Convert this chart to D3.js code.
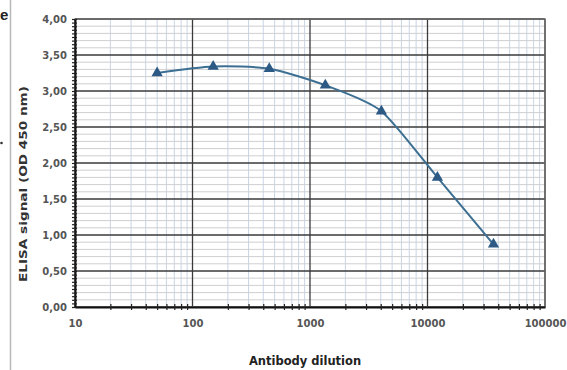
<!DOCTYPE html>
<html>
<head>
<meta charset="utf-8">
<script src="https://cdn.jsdelivr.net/npm/d3@7"></script>
<style>
    body { margin: 0; background: #fff; }
    text { font-family: "DejaVu Sans", "Liberation Sans", Arial, sans-serif; }
</style>
</head>
<body>
<div id="chart"></div>
<script>
// antibody dilution (x) and ELISA signal (y)
var dilutions = [50, 150, 450, 1350, 4050, 12150, 36450];
var signals = [3.25, 3.34, 3.31, 3.08, 2.72, 1.80, 0.87];
var xTickValues = [10, 100, 1000, 10000, 100000];
var yTickValues = [0, 0.5, 1, 1.5, 2, 2.5, 3, 3.5, 4];

DilutionChart = function(_parentElement, _x, _y){
    this.parentElement = _parentElement;
    this.xData = _x;
    this.yData = _y;
    this.initVis();
}

DilutionChart.prototype.initVis = function() {
    var vis = this;

    vis.margin = {top: 19, right: 22, bottom: 63, left: 75};
    vis.width = 567 - vis.margin.left - vis.margin.right;
    vis.height = 370 - vis.margin.top - vis.margin.bottom;

    vis.svg = d3.select("#" + vis.parentElement).append("svg")
        .attr("width", 567)
        .attr("height", 370);

    // bits of the neighbouring page that got cropped in
    vis.svg.append("line")
        .attr("x1", 10.5).attr("x2", 10.5)
        .attr("y1", 0).attr("y2", 370)
        .attr("stroke", "#b8b8b8").attr("stroke-width", 1.5);
    vis.svg.append("text")
        .attr("x", 0).attr("y", 20)
        .style("font-family", "Liberation Sans")
        .style("font-size", "15px").style("font-weight", "bold")
        .attr("fill", "#222")
        .text("e");
    vis.svg.append("circle")
        .attr("cx", 1.5).attr("cy", 143).attr("r", 1.3)
        .attr("fill", "#333");

    vis.g = vis.svg.append("g")
        .attr("transform", "translate(" + vis.margin.left + "," + vis.margin.top + ")");

    vis.x = d3.scaleLog()
        .domain([10, 100000])
        .range([0, vis.width]);

    vis.y = d3.scaleLinear()
        .domain([0, 4])
        .range([vis.height, 0]);

    // minor values
    vis.xMinor = [];
    [10, 100, 1000, 10000].forEach(function(dec){
        for (var k = 2; k <= 9; k++) vis.xMinor.push(dec * k);
    });
    vis.yMinor = d3.range(0, 41).map(function(d){ return d / 10; })
        .filter(function(d){ return Math.round(d * 10) % 5 != 0; });
    vis.yTicksSmall = d3.range(0, 81).map(function(d){ return d / 20; });

    var grid = vis.g.append("g").attr("class", "grid");

    grid.selectAll(".xminor")
        .data(vis.xMinor)
        .enter().append("line")
        .attr("class", "xminor")
        .attr("x1", function(d){ return vis.x(d); })
        .attr("x2", function(d){ return vis.x(d); })
        .attr("y1", 0).attr("y2", vis.height)
        .attr("stroke", "#c9d5e6").attr("stroke-width", 1);

    grid.selectAll(".yminor")
        .data(vis.yMinor)
        .enter().append("line")
        .attr("class", "yminor")
        .attr("x1", 0).attr("x2", vis.width)
        .attr("y1", function(d){ return vis.y(d); })
        .attr("y2", function(d){ return vis.y(d); })
        .attr("stroke", "#cfcfcf").attr("stroke-width", 1);

    grid.selectAll(".xmajor")
        .data(xTickValues)
        .enter().append("line")
        .attr("class", "xmajor")
        .attr("x1", function(d){ return vis.x(d); })
        .attr("x2", function(d){ return vis.x(d); })
        .attr("y1", 0).attr("y2", vis.height)
        .attr("stroke", "#3a3a3a").attr("stroke-width", 1.3);

    grid.selectAll(".ymajor")
        .data(yTickValues)
        .enter().append("line")
        .attr("class", "ymajor")
        .attr("x1", 0).attr("x2", vis.width)
        .attr("y1", function(d){ return vis.y(d); })
        .attr("y2", function(d){ return vis.y(d); })
        .attr("stroke", "#3a3a3a").attr("stroke-width", 1.6);

    // frame
    vis.g.append("rect")
        .attr("x", 0).attr("y", 0)
        .attr("width", vis.width).attr("height", vis.height)
        .attr("fill", "none")
        .attr("stroke", "#6a6a6a").attr("stroke-width", 1.3);

    // axes
    var xAxis = vis.g.append("g")
        .attr("class", "axis")
        .attr("transform", "translate(0," + vis.height + ")")
        .call(d3.axisBottom(vis.x).tickValues(xTickValues).tickSize(0).tickPadding(13)
            .tickFormat(d3.format("d")));
    xAxis.select(".domain").attr("stroke", "#111").attr("stroke-width", 2);

    vis.g.append("g")
        .attr("class", "axis")
        .attr("transform", "translate(0," + (vis.height + 3) + ")")
        .call(d3.axisTop(vis.x).tickValues(vis.xMinor).tickSize(6).tickFormat(""))
        .select(".domain").remove();

    var yAxis = vis.g.append("g")
        .attr("class", "axis")
        .call(d3.axisLeft(vis.y).tickValues(yTickValues).tickSize(0).tickPadding(8)
            .tickFormat(function(d){ return d3.format(".2f")(d).replace(".", ","); }));
    yAxis.select(".domain").attr("stroke", "#111").attr("stroke-width", 2);

    vis.g.append("g")
        .attr("class", "axis")
        .attr("transform", "translate(2,0)")
        .call(d3.axisLeft(vis.y).tickValues(vis.yTicksSmall).tickSize(5).tickFormat(""))
        .select(".domain").remove();

    vis.g.selectAll(".axis .tick line").attr("stroke", "#222").attr("stroke-width", 1.2);
    vis.g.selectAll(".axis text")
        .style("font-size", "10px")
        .style("font-weight", "bold")
        .attr("fill", "#555");

    // titles
    vis.svg.append("text")
        .attr("x", 305).attr("y", 365)
        .attr("text-anchor", "middle")
        .style("font-size", "11.5px").style("font-weight", "bold")
        .attr("fill", "#222")
        .text("Antibody dilution");

    vis.svg.append("text")
        .attr("transform", "translate(27,184) rotate(-90)")
        .attr("text-anchor", "middle")
        .attr("textLength", 196)
        .attr("lengthAdjust", "spacingAndGlyphs")
        .style("font-size", "10.5px").style("font-weight", "bold")
        .attr("fill", "#333")
        .text("ELISA signal (OD 450 nm)");

    vis.updateVis();
}

DilutionChart.prototype.updateVis = function() {
    var vis = this;

    vis.points = vis.xData.map(function(d, i){ return {x: d, y: vis.yData[i]}; });

    vis.line = d3.line()
        .curve(d3.curveCardinal.tension(0.3))
        .x(function(d){ return vis.x(d.x); })
        .y(function(d){ return vis.y(d.y); });

    vis.g.append("path")
        .datum(vis.points)
        .attr("d", vis.line)
        .attr("fill", "none")
        .attr("stroke", "#3c6f92")
        .attr("stroke-width", 2);

    vis.g.selectAll(".marker")
        .data(vis.points)
        .enter().append("path")
        .attr("class", "marker")
        .attr("d", d3.symbol().type(d3.symbolTriangle).size(55))
        .attr("transform", function(d){ return "translate(" + vis.x(d.x) + "," + vis.y(d.y) + ")"; })
        .attr("fill", "#2c5a85");
}

var chart = new DilutionChart("chart", dilutions, signals);
</script>
</body>
</html>
